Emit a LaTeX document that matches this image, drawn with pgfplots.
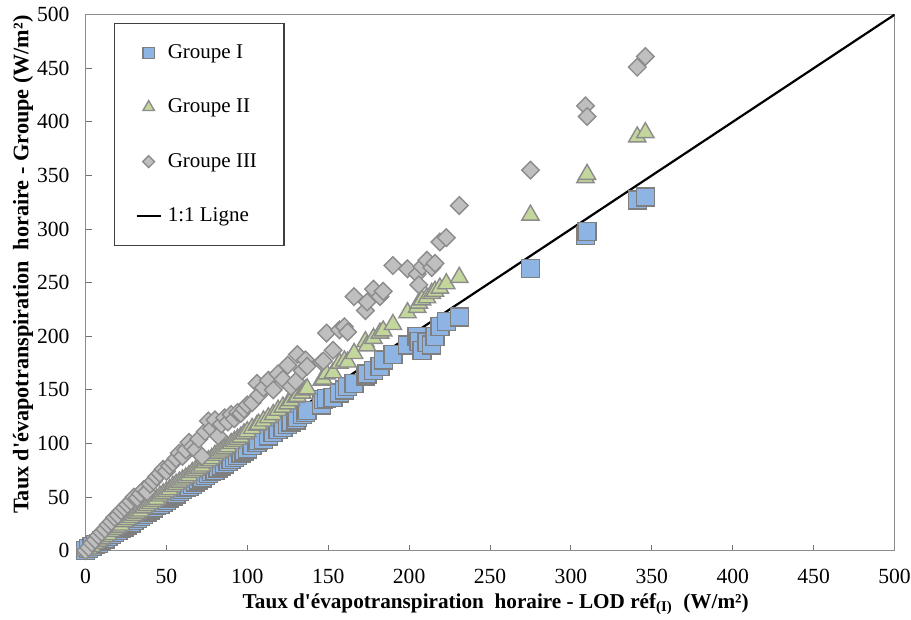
\documentclass[border=0pt]{standalone}
\usepackage{fontspec}
\setmainfont{Liberation Serif}
\usepackage{pgfplots}
\pgfplotsset{compat=1.18}
\usepackage{pgfplotstable}

\definecolor{gI}{HTML}{8DB4E2}
\definecolor{gII}{HTML}{C3D69B}
\definecolor{gIII}{HTML}{BFBFBF}
\definecolor{edgeI}{HTML}{7F7F7F}
\definecolor{edgeII}{HTML}{8C8C8C}
\definecolor{edgeIII}{HTML}{8C8C8C}

\pgfplotsset{
  legmark/.style={legend image code/.code={\draw[##1, mark size=#1] plot coordinates {(6pt,0pt)}; \path (0pt,0pt) (12pt,0pt);}},
  legline/.style={legend image code/.code={\draw[##1] (0pt,0pt) -- (12pt,0pt);}},
}

\pgfplotstableread{
x a b c
0 0 0 0
2 2 2 3
4 4 4 7
6 6 7 10
8 7 9 14
10 9 11 17
12 11 13 20
14 13 15 24
16 15 18 27
18 17 20 31
20 19 22 33
22 21 24 37
24 22 27 40
26 24 29 43
28 26 31 46
30 28 33 50
32 30 35 49
34 32 37 53
36 34 40 57
38 36 42 55
40 38 44 62
42 40 46 65
44 42 48 69
46 43 51 72
48 45 53 76
50 47 55 74
52 49 57 79
54 51 60 82
56 53 62 86
58 55 64 91
60 57 66 88
62 59 68 94
64 60 70 101
66 62 73 97
68 64 75 94
70 66 77 104
72 68 79 88
74 70 82 111
76 72 84 121
78 74 86 114
80 75 89 122
82 77 91 107
84 79 93 118
86 81 95 124
88 83 97 120
90 85 100 127
92 87 102 123
94 89 104 129
96 91 106 128
98 93 109 132
100 95 111 136
103 98 114 138
106 101 117 156
107 103 118 145
110 104 121 152
113 107 124 159
116 110 127 150
119 113 131 165
122 115 134 160
125 118 137 173
127 120 140 153
130 122 143 158
131 124 144 183
134 127 147 168
136 129 150 178
137 131 151 172
146 136 159 176
147 141 160 177
149 142 165 203
153 143 166 187
157 147 175 206
160 150 177 209
162 153 176 204
166 156 184 237
173 163 195 224
174 165 191 232
178 168 198 244
182 172 203 237
184 178 205 242
190 183 211 266
199 192 222 263
205 200 227 258
206 195 231 248
208 187 234 265
211 194 236 271
214 192 240 264
216 200 242 268
219 209 245 288
223 214 249 292
231 218 255 322
275 263 313 355
309 294 348 415
310 298 351 405
341 327 386 451
346 330 390 461
}\data

\begin{document}
\begin{tikzpicture}
\begin{axis}[name=ax,
  scale only axis, width=404.5pt, height=268pt,
  xmin=0, xmax=500, ymin=0, ymax=500,
  xtick={0,50,...,500}, ytick={0,50,...,500},
  xtick pos=bottom, ytick pos=left, tick align=inside,
  major tick length=3pt,
  axis line style={draw=black!45, line width=0.5pt},
  every tick/.style={draw=black!55, line width=0.5pt},
  /pgf/number format/assume math mode=true,
  tick label style={font=\fontsize{10.8}{13}\selectfont},
  xticklabel style={yshift=-5.5pt},
  yticklabel style={xshift=-4.5pt},
  xlabel={Taux d\textquotesingle évapotranspiration\ \ horaire - LOD réf\textsubscript{(I)}\ \ (W/m²)},
  ylabel={Taux d\textquotesingle évapotranspiration\ \ horaire - Groupe (W/m²)},
  xlabel style={font=\bfseries\fontsize{10.6}{13}\selectfont, at={(axis description cs:0.507,-0.1075)}, anchor=base},
  ylabel style={font=\bfseries\fontsize{11.1}{13}\selectfont, at={(axis description cs:-0.0705,0.5336)}, anchor=base},
  legend style={at={(axis description cs:0.0352,0.985)}, anchor=north west,
    draw=black!75, line width=0.6pt, fill=white,
    inner xsep=10.5pt, inner ysep=7pt, row sep=11.7pt,
    nodes={inner sep=3pt, text height=7.5pt, text depth=2pt, font=\fontsize{10.5}{12}\selectfont}},
  legend cell align=left,
]
\addplot[black, line width=1.1pt, forget plot] coordinates {(0,0) (500,500)};

\addplot[only marks, mark=square*, mark size=4.5pt,
  mark options={fill=gI, draw=edgeI, line width=0.7pt}, legmark=2.8pt]
  table[x=x, y=a] {\data};
\addlegendentry{Groupe I}

\addplot[only marks, mark=triangle*, mark size=5pt,
  mark options={fill=gII, draw=edgeII, line width=0.7pt}, legmark=3.3pt]
  table[x=x, y=b] {\data};
\addlegendentry{Groupe II}

\addplot[only marks, mark=square*, mark size=3.1pt,
  mark options={fill=gIII, draw=edgeIII, line width=0.7pt, rotate=45}, legmark=2.1pt]
  table[x=x, y=c] {\data};
\addlegendentry{Groupe III}

\addlegendimage{black, line width=1.1pt, legline}
\addlegendentry{1:1 Ligne}
\end{axis}
\pgfresetboundingbox
\path ([shift={(-42.75pt,-34.15pt)}]ax.south west) rectangle ([shift={(8.25pt,7.35pt)}]ax.north east);
\end{tikzpicture}
\end{document}
